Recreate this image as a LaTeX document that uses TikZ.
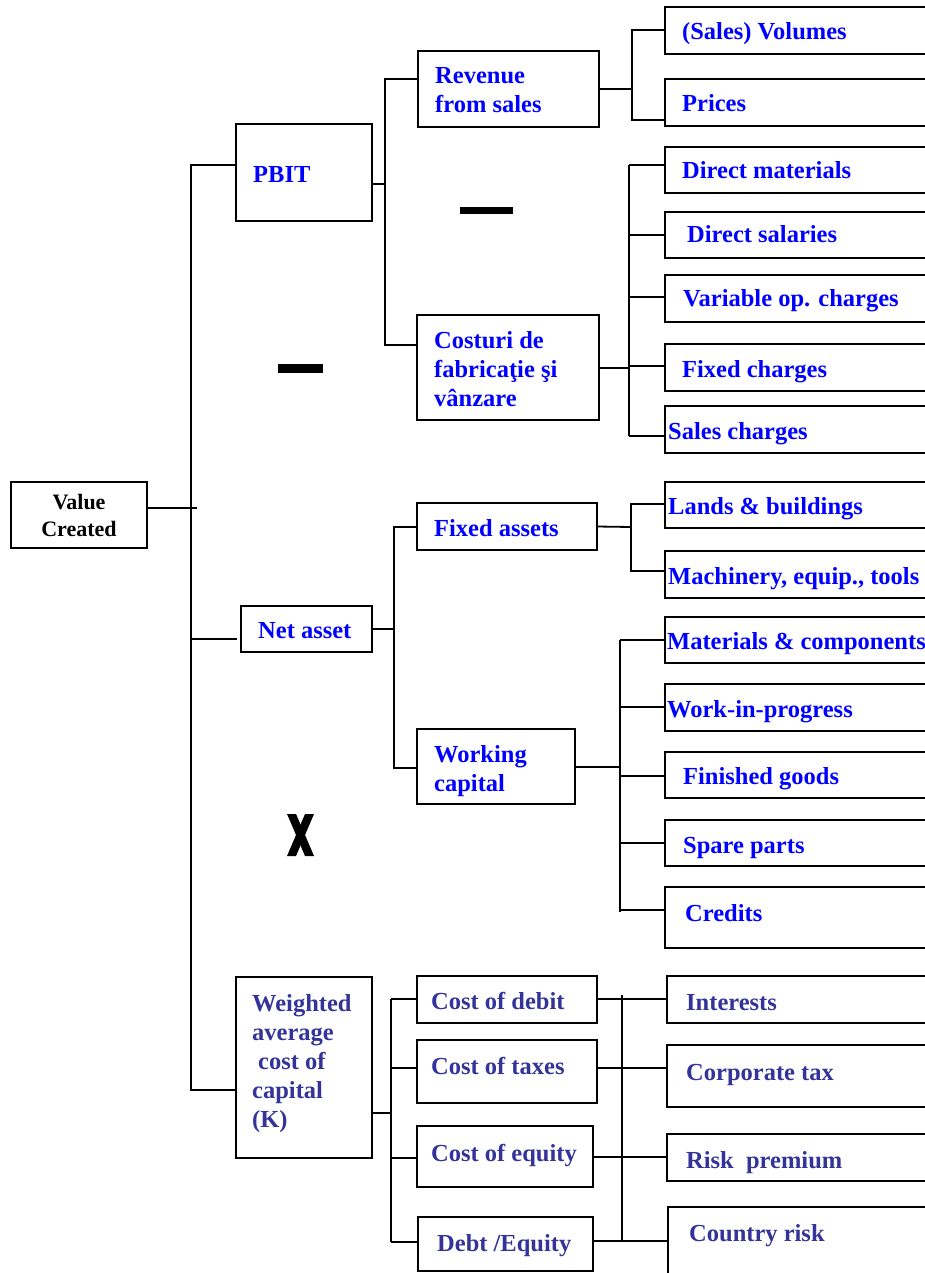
\documentclass[tikz,border=0pt]{standalone}
\usepackage{fontspec}
\setmainfont{Liberation Serif}
\usetikzlibrary{positioning}
\definecolor{labelblue}{RGB}{0,0,255}
\definecolor{kblue}{RGB}{51,51,153}
\tikzset{
  box/.style={draw, line width=1.8pt, anchor=north west, inner sep=0pt, outer sep=0pt},
  lbl/.style={anchor=west, align=left, inner sep=0pt, text depth=0pt, text=labelblue, font=\bfseries\fontsize{24.5}{29}\selectfont},
  klbl/.style={lbl, text=kblue},
  wire/.style={line width=1.8pt},
}
\begin{document}
\begin{tikzpicture}[x=1pt, y=-1pt]
    \useasboundingbox (0,0) rectangle (925,1273);
    \clip (0,0) rectangle (925,1273);
    % left part
    \node[box, minimum width=136pt, minimum height=66pt, align=center, font=\bfseries\fontsize{22}{27}\selectfont] (vc) at (11,482) {Value\\Created};
    \node[box, minimum width=136pt, minimum height=97pt] (pbit) at (236,124) {};
    \node[box, minimum width=131pt, minimum height=46pt] (na) at (241,606) {};
    \node[box, minimum width=136pt, minimum height=181pt] (wacc) at (236,977) {};
    \node[lbl] (pbittxt) at (253,174) {PBIT};
    \node[lbl] (natxt) at (258,630) {Net asset};
    \node[klbl] (wacctxt) at (252,1061) {Weighted\\average\\\hspace*{6pt}cost of\\capital\\(K)};
    % middle part
    \node[box, minimum width=181pt, minimum height=76pt] (rev) at (418,51) {};
    \node[box, minimum width=182pt, minimum height=105pt] (cost) at (417,315) {};
    \node[box, minimum width=180pt, minimum height=47pt] (fa) at (417,503) {};
    \node[box, minimum width=158pt, minimum height=75pt] (wc) at (417,729) {};
    \node[box, minimum width=180pt, minimum height=47pt] (cod) at (417,976) {};
    \node[box, minimum width=180pt, minimum height=63pt] (cotx) at (417,1040) {};
    \node[box, minimum width=176pt, minimum height=61pt] (coe) at (417,1126) {};
    \node[box, minimum width=175pt, minimum height=54pt] (de) at (418,1217) {};
    \node[lbl] (revtxt) at (435,90) {Revenue\\from sales};
    \node[lbl] (costtxt) at (434,369) {Costuri de\\fabricaţie şi\\vânzare};
    \node[lbl] (fatxt) at (434,528) {Fixed assets};
    \node[lbl] (wctxt) at (434,768) {Working\\capital};
    \node[klbl] (codtxt) at (431,1001) {Cost of debit};
    \node[klbl] (cotxtxt) at (431,1066) {Cost of taxes};
    \node[klbl] (coetxt) at (431,1153) {Cost of equity};
    \node[klbl] (detxt) at (437,1243) {Debt /Equity};
    % right column, boxes run off the page
    \foreach \n/\x/\y/\h in {vol/665/7/47, pri/665/79/47, dm/665/147/46, ds/665/212/46,
        vo/665/275/47, fc/665/344/47, sc/665/406/47, lb/665/482/46, mach/665/551/47,
        mat/665/617/46, wip/665/684/47, fg/665/752/46, sp/665/820/46, cr/665/887/61,
        int/667/976/47, ct/667/1045/62, rp/667/1134/47, crk/668/1207/90}
        \node[box, minimum width=290pt, minimum height=\h pt] (\n) at (\x,\y) {};
    \node[lbl] (voltxt) at (682,31) {(Sales) Volumes};
    \node[lbl] (pritxt) at (682,103) {Prices};
    \node[lbl] (dmtxt) at (682,170) {Direct materials};
    \node[lbl] (dstxt) at (687,234) {Direct salaries};
    \node[lbl] (votxt) at (683,298) {Variable op. charges};
    \node[lbl] (fctxt) at (682,369) {Fixed charges};
    \node[lbl] (sctxt) at (668,431) {Sales charges};
    \node[lbl] (lbtxt) at (668,506) {Lands \& buildings};
    \node[lbl] (machtxt) at (668,576) {Machinery, equip., tools};
    \node[lbl] (mattxt) at (667,641) {Materials \& components};
    \node[lbl] (wiptxt) at (667,709) {Work-in-progress};
    \node[lbl] (fgtxt) at (683,776) {Finished goods};
    \node[lbl] (sptxt) at (683,845) {Spare parts};
    \node[lbl] (crtxt) at (685,913) {Credits};
    \node[klbl] (inttxt) at (686,1002) {Interests};
    \node[klbl] (cttxt) at (686,1072) {Corporate tax};
    \node[klbl] (rptxt) at (686,1160) {Risk\ \ premium};
    \node[klbl] (crktxt) at (689,1233) {Country risk};
    % operators
    \fill (460,207) rectangle (513,214);
    \fill (278,364) rectangle (323,373);
    \fill (287,814) -- (296,814) -- (314,856) -- (305,856) -- cycle;
    \fill (305,814) -- (314,814) -- (296,856) -- (287,856) -- cycle;
    % trunk
    \coordinate (vcj) at (197,508);
    \coordinate (t1) at (191,165);
    \coordinate (t2) at (191,639);
    \coordinate (t3) at (191,1090);
    \draw[wire] (vcj -| vc.east) -- (vcj);
    \draw[wire] (t1 -| pbit.west) -- (t1) -- (t3) -- (t3 -| wacc.west);
    \draw[wire] (t2) -- ++(46,0);
    % PBIT
    \coordinate (p0) at (385,184);
    \coordinate (p1) at (385,79);
    \coordinate (p2) at (385,345);
    \draw[wire] (p0 -| pbit.east) -- (p0);
    \draw[wire] (p1 -| rev.west) -- (p1) -- (p2) -- (p2 -| cost.west);
    \draw[wire] (rev.east) -- (632,89);
    \draw[wire] (vol.west |- 0,30) -- (632,30) -- (632,120) -- (pri.west |- 0,120);
    \draw[wire] (cost.east |- 0,368) -- (629,368);
    \draw[wire] (629,165) -- (629,436);
    \foreach \n/\y in {dm/165, ds/235, vo/297, fc/366, sc/436}
        \draw[wire] (629,\y) -- (\n.west |- 0,\y);
    % net asset
    \coordinate (n1) at (394,527);
    \coordinate (n2) at (394,768);
    \draw[wire] (na.east) -- (394,629);
    \draw[wire] (n1 -| fa.west) -- (n1) -- (n2) -- (n2 -| wc.west);
    \draw[wire] (fa.east) -- (631,527);
    \draw[wire] (lb.west |- 0,504) -- (631,504) -- (631,571) -- (mach.west |- 0,571);
    \draw[wire] (wc.east |- 0,767) -- (620,767);
    \draw[wire] (620,640) -- (620,912);
    \foreach \n/\y in {mat/640, wip/707, fg/776, sp/843, cr/910}
        \draw[wire] (620,\y) -- (\n.west |- 0,\y);
    % cost of capital
    \draw[wire] (wacc.east |- 0,1113) -- (391,1113);
    \draw[wire] (391,999) -- (391,1242);
    \foreach \n/\y in {cod/999, cotx/1068, coe/1158, de/1242}
        \draw[wire] (391,\y) -- (\n.west |- 0,\y);
    \draw[wire] (622,995) -- (622,1241);
    \draw[wire] (cod.east |- 0,999) -- (int.west |- 0,999);
    \draw[wire] (cotx.east |- 0,1068) -- (ct.west |- 0,1068);
    \draw[wire] (coe.east |- 0,1157) -- (rp.west |- 0,1157);
    \draw[wire] (de.east |- 0,1241) -- (crk.west |- 0,1241);
\end{tikzpicture}
\end{document}
